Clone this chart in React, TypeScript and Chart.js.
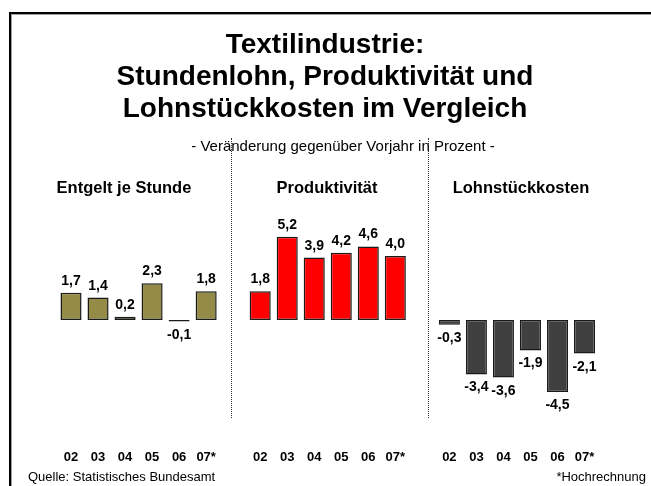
import React, { useEffect, useRef } from "react";
import { Chart, registerables } from "chart.js";

Chart.register(...registerables);

const years = ["02", "03", "04", "05", "06", "07*"];
const panelTitles = ["Entgelt je Stunde", "Produktivität", "Lohnstückkosten"];
const entgelt = [1.7, 1.4, 0.2, 2.3, -0.1, 1.8];
const produktivitaet = [1.8, 5.2, 3.9, 4.2, 4.6, 4.0];
const lohnstueckkosten = [-0.3, -3.4, -3.6, -1.9, -4.5, -2.1];
const panelColors = ["#948b47", "#ff0000", "#404040"];

const W = 651;
const H = 486;
const FONT = '"Liberation Sans", Arial, Helvetica, sans-serif';

// category axis: three panels separated by one empty slot each
const labels = [...years, "", ...years, "", ...years];
const series = [entgelt, produktivitaet, lohnstueckkosten];
const slotData = (idx: number) =>
  labels.map((_, i) => {
    const start = idx * (years.length + 1);
    const j = i - start;
    return j >= 0 && j < years.length ? series[idx][j] : null;
  });

const fmt = (v: number) => v.toFixed(1).replace(".", ",");

const labelPlugin = {
  id: "valueLabels",
  afterDatasetsDraw(chart: any) {
    const ctx = chart.ctx;
    ctx.save();
    ctx.fillStyle = "#000";
    ctx.textAlign = "center";
    ctx.textBaseline = "alphabetic";
    ctx.font = `bold 14px ${FONT}`;
    chart.data.datasets.forEach((ds: any, di: number) => {
      const meta = chart.getDatasetMeta(di);
      meta.data.forEach((el: any, i: number) => {
        const v = ds.data[i];
        if (v === null || v === undefined) return;
        const y = v >= 0 ? el.y - 8 : el.y + 17;
        ctx.fillText(fmt(v), el.x, y);
      });
    });
    // year tick labels from the category scale
    const xs = chart.scales.x;
    ctx.font = `bold 13px ${FONT}`;
    labels.forEach((lab, i) => {
      if (!lab) return;
      ctx.fillText(lab, xs.getPixelForValue(i), 461);
    });
    ctx.restore();
  },
};

type TxtProps = {
  x: number;
  baseline: number;
  size: number;
  bold?: boolean;
  align?: "left" | "center" | "right";
  children: React.ReactNode;
};

function Txt({ x, baseline, size, bold, align = "center", children }: TxtProps) {
  const top = baseline - 0.9465 * size;
  const style: React.CSSProperties = {
    position: "absolute",
    top,
    fontSize: size,
    lineHeight: `${size * 1.2}px`,
    fontWeight: bold ? "bold" : "normal",
    whiteSpace: "nowrap",
    color: "#000",
  };
  if (align === "center") {
    style.left = x;
    style.transform = "translateX(-50%)";
  } else if (align === "left") {
    style.left = x;
  } else {
    style.right = W - x;
  }
  return <div style={style}>{children}</div>;
}

export default function App() {
  const ref = useRef<HTMLCanvasElement | null>(null);

  useEffect(() => {
    if (!ref.current) return;
    const chart = new Chart(ref.current, {
      type: "bar",
      data: {
        labels,
        datasets: series.map((_, idx) => ({
          data: slotData(idx),
          backgroundColor: panelColors[idx],
          borderColor: "#1a1a1a",
          borderWidth: 1.5,
          borderSkipped: false,
          grouped: false,
          barPercentage: 0.78,
          categoryPercentage: 1,
        })),
      },
      options: {
        animation: false,
        responsive: false,
        devicePixelRatio: 1,
        layout: { padding: { left: 57.5, right: 53, top: 224, bottom: 70 } },
        plugins: {
          legend: { display: false },
          tooltip: { enabled: false },
          title: { display: false },
        },
        scales: {
          x: { display: false },
          y: { display: false, min: -6, max: 6 },
        },
      } as any,
      plugins: [labelPlugin],
    });
    return () => chart.destroy();
  }, []);

  return (
    <div
      style={{
        position: "absolute",
        left: 0,
        top: 0,
        width: W,
        height: H,
        overflow: "hidden",
        background: "#fff",
        fontFamily: FONT,
      }}
    >
      <div
        style={{
          position: "absolute",
          left: 9,
          top: 12,
          width: 800,
          height: 700,
          borderTop: "2px solid #000",
          borderLeft: "2px solid #000",
          boxShadow: "inset 1px 1px 0 #a0a0a0",
        }}
      />
      <canvas ref={ref} width={W} height={H} style={{ position: "absolute", left: 0, top: 0 }} />
      <div style={{ position: "absolute", left: 231, top: 138, height: 280, borderLeft: "1px dotted #333" }} />
      <div style={{ position: "absolute", left: 428, top: 138, height: 280, borderLeft: "1px dotted #333" }} />
      <Txt x={325} baseline={54} size={28} bold>Textilindustrie:</Txt>
      <Txt x={325} baseline={86} size={28} bold>Stundenlohn, Produktivität und</Txt>
      <Txt x={325} baseline={118} size={28} bold>Lohnstückkosten im Vergleich</Txt>
      <Txt x={343} baseline={151} size={15}>- Veränderung gegenüber Vorjahr in Prozent -</Txt>
      <Txt x={124} baseline={194} size={16.5} bold>{panelTitles[0]}</Txt>
      <Txt x={327} baseline={194} size={16.5} bold>{panelTitles[1]}</Txt>
      <Txt x={521} baseline={194} size={16.5} bold>{panelTitles[2]}</Txt>
      <Txt x={28} baseline={481} size={13} align="left">Quelle: Statistisches Bundesamt</Txt>
      <Txt x={646} baseline={481} size={13} align="right">*Hochrechnung</Txt>
    </div>
  );
}
